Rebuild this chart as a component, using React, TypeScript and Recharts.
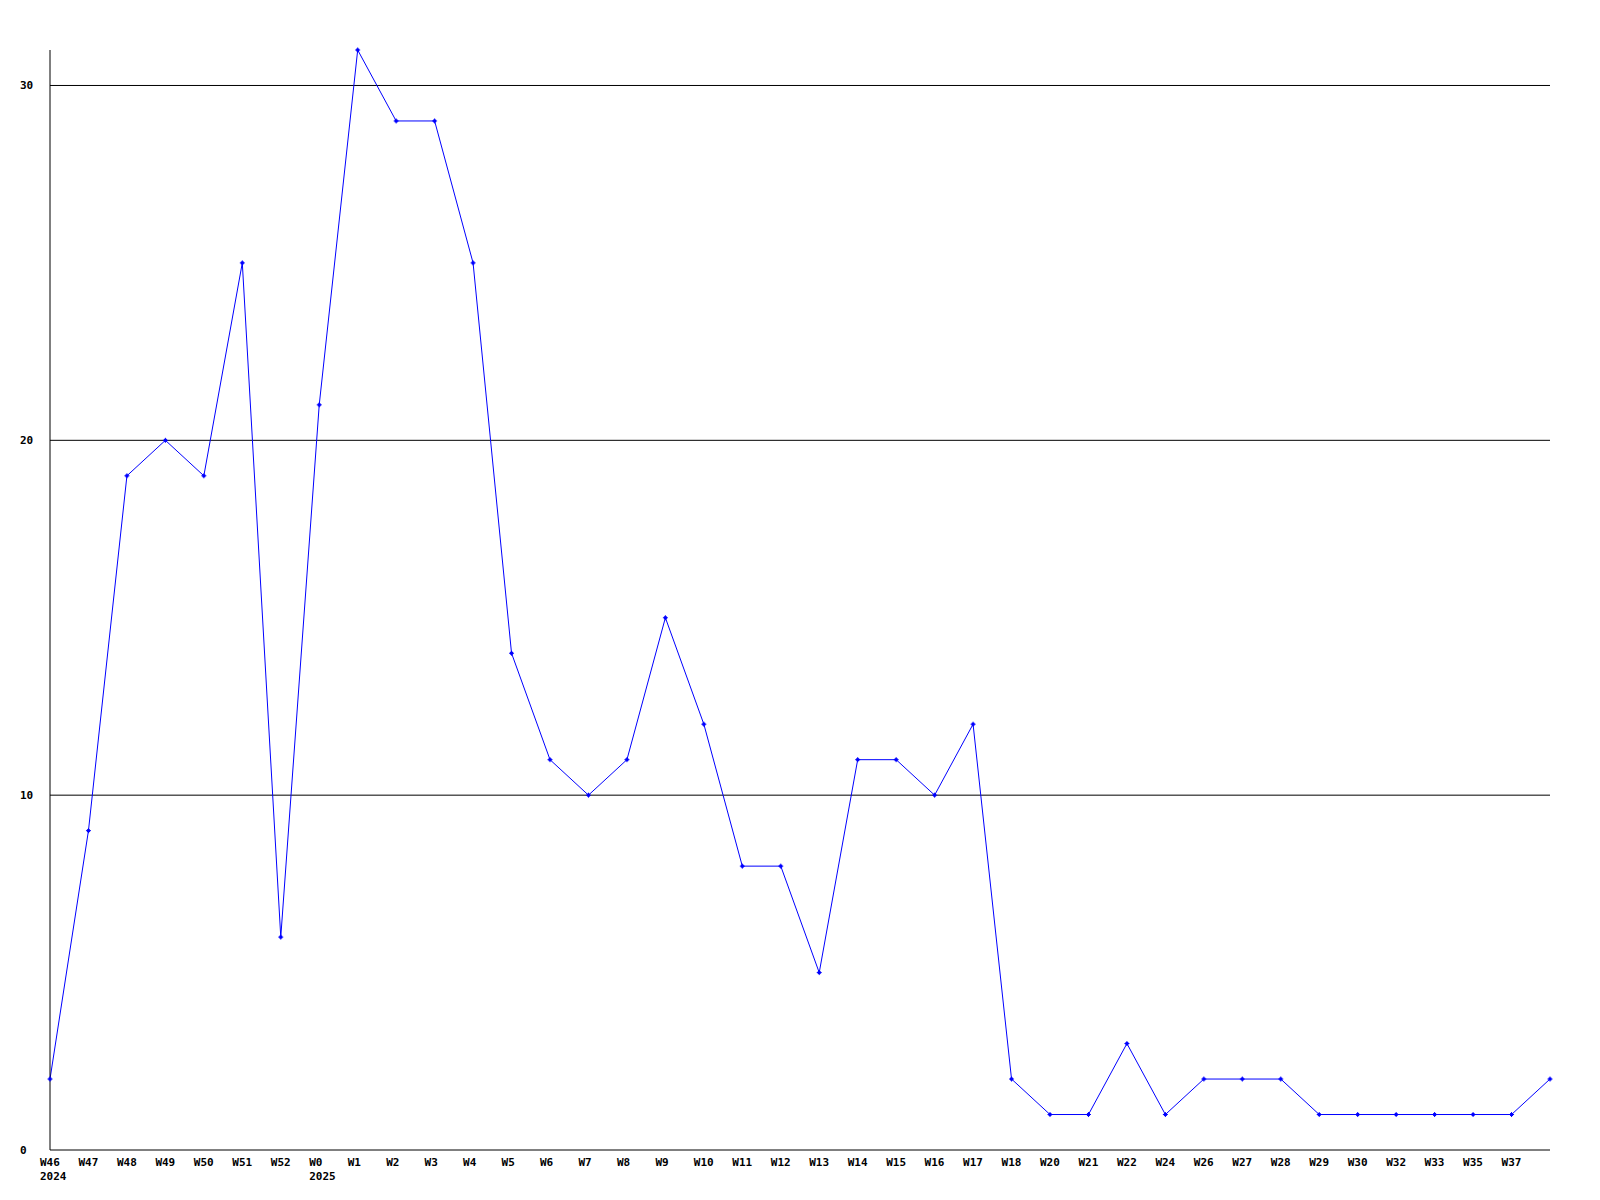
import { LineChart, Line, XAxis, YAxis, ReferenceLine } from 'recharts'

const weeks = [
  'W46', 'W47', 'W48', 'W49', 'W50', 'W51', 'W52', 'W0', 'W1', 'W2',
  'W3', 'W4', 'W5', 'W6', 'W7', 'W8', 'W9', 'W10', 'W11', 'W12',
  'W13', 'W14', 'W15', 'W16', 'W17', 'W18', 'W20', 'W21', 'W22', 'W24',
  'W26', 'W27', 'W28', 'W29', 'W30', 'W32', 'W33', 'W35', 'W37', '',
]
const counts = [
  2, 9, 19, 20, 19, 25, 6, 21, 31, 29,
  29, 25, 14, 11, 10, 11, 15, 12, 8, 8,
  5, 11, 11, 10, 12, 2, 1, 1, 3, 1,
  2, 2, 2, 1, 1, 1, 1, 1, 1, 2,
]
const years: Record<string, string> = { W46: '2024', W0: '2025' }
const yTicks = [0, 10, 20, 30]
const gridValues = [10, 20, 30]

const data = weeks.map((week, i) => ({ key: `${i}`, week, count: counts[i] }))

const font = '"DejaVu Sans Mono", monospace'

const WeekTick = (props: any) => {
  const { x, y, payload } = props
  const label = weeks[payload.index] ?? ''
  return (
    <g>
      <text x={x - 10} y={y + 8} fontFamily={font} fontWeight="bold" fontSize={11} fill="#000">
        {label}
      </text>
      {years[label] && (
        <text x={x - 10} y={y + 22} fontFamily={font} fontWeight="bold" fontSize={11} fill="#000">
          {years[label]}
        </text>
      )}
    </g>
  )
}

const CountTick = (props: any) => {
  const { y, payload } = props
  return (
    <text x={20} y={y + 4} fontFamily={font} fontWeight="bold" fontSize={11} fill="#000">
      {payload.value}
    </text>
  )
}

const Marker = (props: any) => {
  const { cx, cy } = props
  if (cx == null || cy == null) return null
  return (
    <g fill="#0000ff">
      <rect x={cx - 2.5} y={cy - 0.5} width={5} height={1} />
      <rect x={cx - 0.5} y={cy - 2.5} width={1} height={5} />
      <rect x={cx - 1.5} y={cy - 1.5} width={3} height={3} />
    </g>
  )
}

export default function App() {
  return (
    <div style={{ position: 'absolute', left: 0, top: 0, background: '#fff' }}>
      <LineChart
        width={1600}
        height={1200}
        data={data}
        margin={{ top: 50, right: 50, bottom: 0, left: 0 }}
      >
        <XAxis
          dataKey="key"
          height={50}
          axisLine={{ stroke: '#000' }}
          tickLine={false}
          interval={0}
          tick={<WeekTick />}
        />
        <YAxis
          width={50}
          domain={[0, 31]}
          ticks={yTicks}
          axisLine={{ stroke: '#000' }}
          tickLine={false}
          tick={<CountTick />}
        />
        {gridValues.map((v) => (
          <ReferenceLine key={v} y={v} stroke="#000" strokeWidth={1} />
        ))}
        <Line
          type="linear"
          dataKey="count"
          stroke="#0000ff"
          strokeWidth={1}
          dot={<Marker />}
          activeDot={false}
          isAnimationActive={false}
        />
      </LineChart>
    </div>
  )
}
